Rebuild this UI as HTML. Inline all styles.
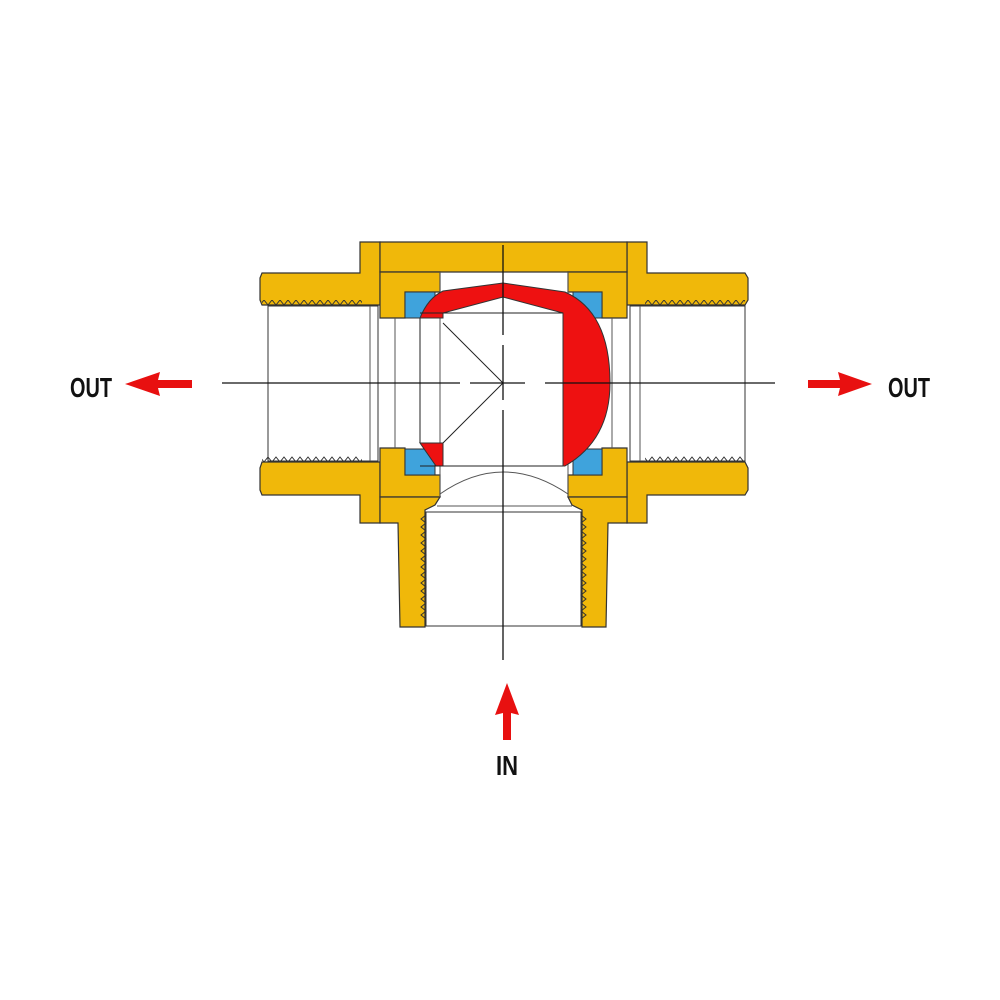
<!DOCTYPE html>
<html><head><meta charset="utf-8"><style>
html,body{margin:0;padding:0;background:#fff;width:1000px;height:1000px;overflow:hidden}
svg{display:block}
text{font-family:"Liberation Sans",sans-serif;font-weight:bold;fill:#111}
</style></head><body>
<svg width="1000" height="1000" viewBox="0 0 1000 1000">
<defs>
<pattern id="zz" width="8" height="6" patternUnits="userSpaceOnUse"><path d="M0 0 L4 5 L8 0" fill="none" stroke="#333" stroke-width="1"/></pattern>
</defs>
<g stroke="#333" stroke-width="1.2" fill="#f0b80a">
<path d="M262 273 L360 273 L360 242 L380 242 L380 305 L262 305 L260 300 L260 278 Z"/>
<path d="M262 462 L380 462 L380 523 L360 523 L360 495 L262 495 L260 490 L260 468 Z"/>
<path d="M627 242 L647 242 L647 273 L745 273 L748 278 L748 300 L745 305 L627 305 Z"/>
<path d="M627 462 L745 462 L748 468 L748 490 L745 495 L647 495 L647 523 L627 523 Z"/>
<path d="M380 242 L627 242 L627 272 L380 272 Z"/>
<path d="M380 272 L440 272 L440 292 L405 292 L405 318 L380 318 Z"/>
<path d="M380 448 L405 448 L405 475 L440 475 L440 497 L380 497 Z"/>
<path d="M568 272 L627 272 L627 318 L602 318 L602 292 L568 292 Z"/>
<path d="M568 475 L602 475 L602 448 L627 448 L627 497 L568 497 Z"/>
<path d="M380 497 L440 497 L435 505 L425 510 L425 627 L400 627 L398 523 L380 523 Z"/>
<path d="M568 497 L627 497 L627 523 L608 523 L606 627 L582 627 L582 510 L572 505 Z"/>
</g>
<g fill="#fff" stroke="#333" stroke-width="1">
<rect x="268" y="306" width="110" height="155"/>
<rect x="630" y="306" width="115" height="155"/>
<rect x="426" y="512" width="155" height="114"/>
</g>
<g stroke="none">
<rect x="262" y="300" width="100" height="6" fill="url(#zz)"/>
<rect x="262" y="456" width="100" height="6" fill="url(#zz)" transform="translate(0,918) scale(1,-1)"/>
<rect x="645" y="300" width="100" height="6" fill="url(#zz)"/>
<rect x="645" y="456" width="100" height="6" fill="url(#zz)" transform="translate(0,918) scale(1,-1)"/>
</g>
<g fill="none" stroke="#333" stroke-width="1">
<polyline points="426,515 421,519 426,523 421,527 426,531 421,535 426,539 421,543 426,547 421,551 426,555 421,559 426,563 421,567 426,571 421,575 426,579 421,583 426,587 421,591 426,595 421,599 426,603 421,607 426,611 421,615 426,619"/>
<polyline points="581,515 586,519 581,523 586,527 581,531 586,535 581,539 586,543 581,547 586,551 581,555 586,559 581,563 586,567 581,571 586,575 581,579 586,583 581,587 586,591 581,595 586,599 581,603 586,607 581,611 586,615 581,619"/>
</g>
<g stroke="#555" stroke-width="1" fill="none">
<line x1="370" y1="306" x2="370" y2="461"/>
<line x1="640" y1="306" x2="640" y2="461"/>
<line x1="395" y1="318" x2="395" y2="448"/>
<line x1="612" y1="318" x2="612" y2="448"/>
<line x1="440" y1="272" x2="440" y2="497"/>
<line x1="568" y1="272" x2="568" y2="497"/>
<line x1="437" y1="506" x2="572" y2="506"/>
<path d="M440 494 Q503 450 568 494"/>
</g>
<g fill="#3fa3dc" stroke="#333" stroke-width="1">
<rect x="405" y="292" width="30" height="26"/>
<rect x="405" y="449" width="30" height="26"/>
<rect x="573" y="292" width="29" height="26"/>
<rect x="573" y="449" width="29" height="26"/>
</g>
<path d="M420 318 Q428 298 443 291 L503 283 L565 292 Q610 312 610 383 Q610 440 565 466 L563 466 L563 313 L503 297 L443 313 L443 318 Z" fill="#ee1111" stroke="#333" stroke-width="1"/>
<path d="M420 443 L443 443 L443 466 L436 466 Z" fill="#ee1111" stroke="#333" stroke-width="1"/>
<g stroke="#222" stroke-width="1" fill="none">
<line x1="420" y1="318" x2="420" y2="443"/>
<line x1="420" y1="313" x2="563" y2="313"/>
<line x1="420" y1="466" x2="563" y2="466"/>
<polyline points="443,323 503,383 443,443"/>
</g>
<g stroke="#111" stroke-width="1.3">
<line x1="222" y1="383" x2="460" y2="383"/>
<line x1="470" y1="383" x2="525" y2="383"/>
<line x1="545" y1="383" x2="775" y2="383"/>
<line x1="503" y1="245" x2="503" y2="335"/>
<line x1="503" y1="345" x2="503" y2="400"/>
<line x1="503" y1="410" x2="503" y2="660"/>
</g>
<g fill="#e81010">
<polygon points="125,384 160,372 158,380 192,380 192,388 158,388 160,396"/>
<polygon points="872,384 838,372 840,380 808,380 808,388 840,388 838,396"/>
<polygon points="507,683 495,715 503,713 503,740 511,740 511,713 519,715"/>
</g>
<text x="70" y="397" font-size="28" textLength="42" lengthAdjust="spacingAndGlyphs">OUT</text>
<text x="888" y="397" font-size="28" textLength="42" lengthAdjust="spacingAndGlyphs">OUT</text>
<text x="496" y="775" font-size="28" textLength="22" lengthAdjust="spacingAndGlyphs">IN</text>
</svg>
</body></html>
